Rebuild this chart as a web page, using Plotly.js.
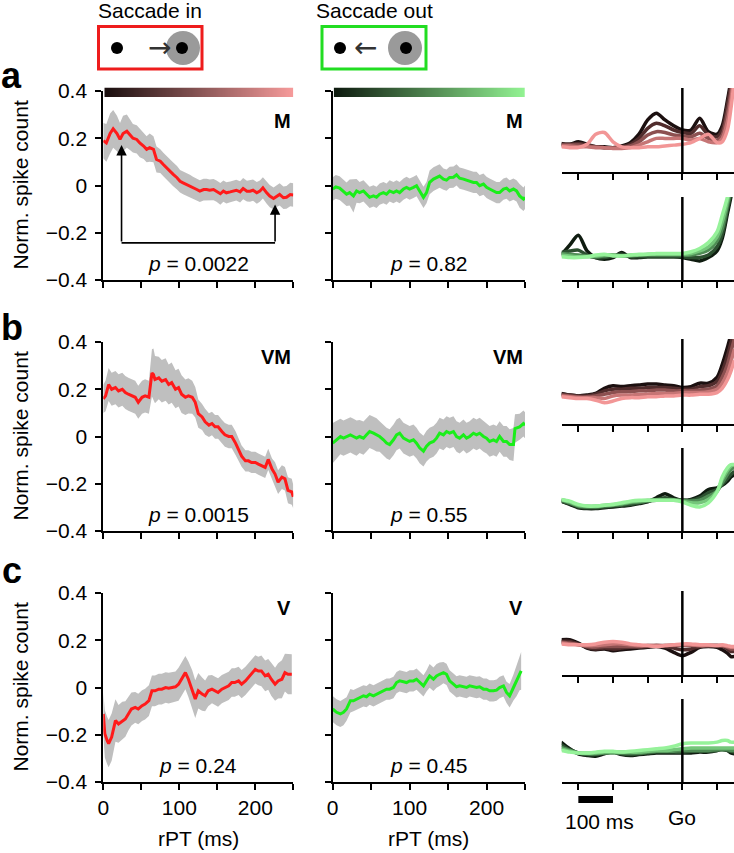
<!DOCTYPE html>
<html><head><meta charset="utf-8">
<script src="https://cdn.plot.ly/plotly-3.0.1.min.js"></script>
<style>html,body{margin:0;padding:0;background:#fff}#g{width:734px;height:853px}</style>
</head><body><div id="g"></div>
<script>
// ---------- left panels: population rPT curves (mean, sem) ----------
const tA1=[0,4,9,13,18,22,26,31,35,39,44,48,53,57,61,66,70,75,79,83,88,92,97,101,105,110,114,118,123,127,132,136,140,145,149,154,158,162,167,171,175,180,184,189,193,197,202,206,210,215,219,224,228,232,237,241,246,250];
const yA1=[0.19,0.18,0.22,0.24,0.22,0.195,0.22,0.23,0.215,0.2,0.195,0.18,0.167,0.153,0.16,0.153,0.11,0.103,0.089,0.075,0.06,0.047,0.033,0.018,0.011,0.004,-0.003,-0.01,-0.017,-0.024,-0.017,-0.017,-0.02,-0.017,-0.024,-0.035,-0.024,-0.031,-0.027,-0.024,-0.02,-0.027,-0.013,-0.024,-0.024,-0.02,-0.031,-0.024,-0.01,-0.031,-0.045,-0.055,-0.045,-0.038,-0.052,-0.05,-0.038,-0.04];
const sA1=[0.075,0.08,0.085,0.08,0.075,0.07,0.075,0.07,0.065,0.06,0.06,0.06,0.055,0.055,0.06,0.055,0.055,0.05,0.05,0.05,0.05,0.05,0.05,0.048,0.048,0.048,0.048,0.047,0.047,0.046,0.046,0.046,0.045,0.045,0.045,0.046,0.045,0.045,0.044,0.044,0.044,0.045,0.045,0.044,0.045,0.045,0.046,0.045,0.045,0.046,0.047,0.047,0.046,0.047,0.048,0.048,0.05,0.05];

const tA2=[0,4,9,13,18,22,27,31,35,40,44,48,53,57,61,66,70,74,79,83,87,92,96,100,105,109,113,118,122,126,131,135,139,144,148,152,157,161,165,170,174,178,183,187,191,196,200,204,209,213,217,222,226,230,235,239,243,248,250];
const yA2=[-0.015,-0.006,-0.011,-0.023,-0.037,-0.03,-0.044,-0.023,-0.03,-0.023,-0.037,-0.05,-0.044,-0.05,-0.037,-0.03,-0.037,-0.023,-0.03,-0.023,-0.03,-0.015,-0.008,-0.015,-0.008,-0.001,-0.023,-0.05,-0.03,0.013,0.027,0.034,0.04,0.027,0.023,0.034,0.035,0.045,0.031,0.027,0.023,0.02,0.013,0.013,-0.001,0.006,-0.008,-0.015,-0.023,-0.03,-0.03,-0.015,-0.011,-0.023,-0.015,-0.023,-0.044,-0.058,-0.05];
const sA2=[0.05,0.05,0.05,0.05,0.05,0.055,0.07,0.05,0.045,0.045,0.045,0.045,0.045,0.045,0.045,0.045,0.045,0.045,0.045,0.045,0.045,0.045,0.045,0.045,0.045,0.045,0.045,0.045,0.045,0.05,0.05,0.05,0.05,0.045,0.045,0.045,0.045,0.045,0.045,0.045,0.045,0.045,0.045,0.045,0.045,0.045,0.045,0.045,0.045,0.045,0.045,0.045,0.045,0.045,0.045,0.045,0.05,0.05,0.05];

const tB1=[0,3,7,11,16,20,25,29,33,37,42,46,51,55,60,64,66,68,73,77,82,86,90,95,99,103,108,112,117,121,125,130,134,139,143,147,151,156,160,165,169,174,178,182,187,191,195,200,204,209,213,217,222,226,230,235,239,243,248,250];
const yB1=[0.159,0.172,0.22,0.2,0.207,0.193,0.2,0.186,0.179,0.172,0.166,0.145,0.166,0.172,0.166,0.269,0.262,0.241,0.248,0.234,0.241,0.22,0.228,0.2,0.207,0.179,0.166,0.172,0.166,0.145,0.097,0.083,0.062,0.048,0.055,0.041,0.041,0.021,0.007,0,0,-0.028,-0.055,-0.083,-0.103,-0.103,-0.11,-0.11,-0.117,-0.124,-0.131,-0.097,-0.138,-0.159,-0.193,-0.172,-0.179,-0.228,-0.234,-0.255];
const sB1=[0.06,0.065,0.07,0.07,0.07,0.07,0.07,0.07,0.07,0.07,0.07,0.07,0.07,0.07,0.07,0.1,0.11,0.1,0.09,0.09,0.09,0.085,0.085,0.08,0.08,0.08,0.075,0.075,0.07,0.065,0.06,0.055,0.055,0.05,0.05,0.05,0.05,0.05,0.05,0.05,0.05,0.05,0.05,0.045,0.045,0.045,0.045,0.045,0.045,0.045,0.045,0.045,0.045,0.05,0.05,0.05,0.05,0.055,0.055,0.05];

const tB2=[0,5,10,14,18,23,27,31,35,40,44,48,53,57,61,66,70,74,79,83,87,92,96,100,105,109,113,118,122,126,131,135,139,144,148,152,157,161,165,170,174,178,183,187,191,196,200,204,209,213,217,222,226,230,235,237,243,248,250];
const yB2=[-0.028,-0.014,0,-0.007,0,0.007,0,-0.007,0,-0.007,0.007,0.021,0.014,0.007,0,-0.014,-0.028,-0.034,-0.014,0.007,0.014,-0.007,-0.014,-0.021,-0.014,-0.028,-0.048,-0.062,-0.041,-0.028,-0.021,-0.007,0.014,0.007,0.021,0.014,0.021,0,-0.007,0.007,-0.007,0,0.014,0.007,0.014,0,-0.007,-0.021,-0.014,-0.021,0,-0.021,-0.021,-0.034,-0.034,0.034,0.041,0.055,0.048];
const sB2=[0.085,0.08,0.075,0.075,0.075,0.075,0.075,0.075,0.07,0.07,0.07,0.07,0.07,0.07,0.065,0.065,0.065,0.065,0.065,0.065,0.065,0.065,0.065,0.065,0.065,0.065,0.065,0.065,0.065,0.065,0.065,0.065,0.065,0.065,0.065,0.065,0.065,0.065,0.065,0.065,0.065,0.065,0.065,0.065,0.065,0.065,0.065,0.065,0.065,0.065,0.065,0.065,0.065,0.065,0.07,0.06,0.055,0.055,0.055];

const tC1=[0,2,5,7,11,16,20,25,29,33,37,42,46,51,55,60,64,68,73,77,82,86,90,95,99,103,108,112,117,121,125,130,134,138,143,147,151,156,160,165,169,173,178,182,187,191,195,200,204,208,213,217,221,226,230,235,239,243,248];
const yC1=[-0.112,-0.196,-0.224,-0.238,-0.21,-0.14,-0.154,-0.14,-0.133,-0.112,-0.091,-0.084,-0.091,-0.077,-0.07,-0.056,-0.014,-0.014,-0.007,-0.007,0,-0.003,0,0.003,0.014,0.035,0.063,0.035,-0.007,-0.049,-0.014,-0.028,-0.035,-0.014,-0.007,-0.014,-0.021,-0.007,0,0.007,0.021,0.021,0.028,0.014,0.028,0.042,0.056,0.077,0.07,0.07,0.049,0.056,0.035,0.014,0.028,0.035,0.063,0.056,0.056];
const sC1=[0.09,0.1,0.1,0.1,0.1,0.09,0.08,0.08,0.075,0.07,0.07,0.065,0.065,0.065,0.065,0.065,0.065,0.065,0.065,0.065,0.065,0.065,0.065,0.065,0.07,0.07,0.07,0.075,0.08,0.08,0.075,0.07,0.065,0.065,0.06,0.06,0.06,0.06,0.06,0.06,0.06,0.06,0.06,0.06,0.06,0.06,0.06,0.06,0.06,0.065,0.065,0.065,0.07,0.07,0.075,0.08,0.08,0.085,0.085];

const tC2=[0,5,10,14,18,23,27,31,35,40,44,48,53,57,61,66,70,74,79,83,87,92,96,100,105,109,113,118,122,126,131,135,139,144,148,152,157,161,165,170,174,178,183,187,191,196,200,204,209,213,217,222,226,230,235,239,243,245];
const yC2=[-0.091,-0.105,-0.112,-0.105,-0.091,-0.056,-0.056,-0.049,-0.042,-0.035,-0.039,-0.028,-0.035,-0.028,-0.021,-0.014,-0.007,-0.007,0,0.021,0.028,0.024,0.021,0.028,0.028,0.035,0.021,0.007,0.028,0.049,0.035,0.049,0.056,0.063,0.056,0.028,0.014,0.003,0.007,0.003,0,0.007,0.003,0,0.003,-0.007,-0.007,-0.014,-0.014,-0.011,0,0.007,-0.021,-0.035,0,0.028,0.063,0.07];
const sC2=[0.055,0.055,0.055,0.055,0.05,0.05,0.045,0.045,0.045,0.045,0.045,0.045,0.045,0.045,0.045,0.045,0.045,0.045,0.045,0.045,0.045,0.045,0.045,0.045,0.045,0.045,0.045,0.045,0.045,0.05,0.05,0.05,0.05,0.045,0.045,0.045,0.045,0.045,0.045,0.045,0.045,0.045,0.045,0.045,0.045,0.045,0.045,0.045,0.045,0.045,0.045,0.045,0.045,0.05,0.055,0.065,0.075,0.08];

const rowTypes=['M','VM','V'];
const pIn=['0.0022','0.0015','0.24'];
const pOut=['0.82','0.55','0.45'];
const xTicks=[0,50,100,150,200,250];
const xTickText=['0','','100','','200',''];
const yTicks=[-0.4,-0.2,0,0.2,0.4];
const yTickText=['\u22120.4','\u22120.2','0','0.2','0.4'];

// ---------- right panels: single-session curves vs time from Go ----------
const tR=[-350,-325,-300,-275,-250,-225,-200,-175,-150,-125,-100,-75,-50,-25,0,25,50,75,100,115,130,140,150];
const rAin=[
 [0.34,0.33,0.36,0.33,0.30,0.30,0.29,0.31,0.35,0.45,0.62,0.70,0.62,0.55,0.50,0.50,0.64,0.48,0.45,0.55,0.85,1.1,1.5],
 [0.33,0.33,0.34,0.32,0.30,0.29,0.29,0.30,0.33,0.40,0.52,0.58,0.55,0.50,0.47,0.46,0.55,0.44,0.42,0.50,0.80,1.05,1.4],
 [0.32,0.32,0.32,0.31,0.30,0.29,0.29,0.29,0.31,0.36,0.44,0.48,0.47,0.44,0.43,0.42,0.46,0.40,0.38,0.44,0.70,0.95,1.3],
 [0.31,0.31,0.30,0.30,0.29,0.29,0.28,0.28,0.29,0.32,0.36,0.40,0.40,0.40,0.40,0.38,0.40,0.36,0.35,0.40,0.60,0.85,1.2],
 [0.30,0.29,0.29,0.33,0.45,0.47,0.36,0.30,0.29,0.29,0.30,0.30,0.31,0.32,0.33,0.35,0.40,0.45,0.35,0.36,0.50,0.75,1.1]];
const rAout=[
 [0.30,0.42,0.54,0.35,0.27,0.25,0.27,0.33,0.27,0.27,0.28,0.28,0.28,0.28,0.27,0.25,0.23,0.27,0.35,0.50,0.80,1.0,1.3],
 [0.33,0.35,0.36,0.30,0.27,0.27,0.29,0.31,0.28,0.28,0.28,0.28,0.28,0.28,0.28,0.27,0.27,0.30,0.40,0.55,0.85,1.05,1.35],
 [0.32,0.31,0.30,0.29,0.28,0.29,0.30,0.29,0.29,0.30,0.30,0.30,0.30,0.30,0.30,0.30,0.32,0.36,0.47,0.62,0.90,1.1,1.4],
 [0.30,0.29,0.28,0.28,0.29,0.30,0.30,0.29,0.30,0.30,0.31,0.31,0.31,0.31,0.31,0.32,0.35,0.40,0.52,0.70,0.95,1.15,1.45],
 [0.28,0.27,0.27,0.28,0.30,0.31,0.29,0.29,0.30,0.31,0.31,0.32,0.32,0.32,0.32,0.34,0.38,0.45,0.58,0.78,1.0,1.2,1.5]];
const rBin=[
 [0.36,0.34,0.33,0.34,0.36,0.42,0.45,0.44,0.45,0.46,0.47,0.47,0.46,0.45,0.43,0.44,0.48,0.48,0.55,0.70,0.90,1.05,1.2],
 [0.35,0.34,0.33,0.33,0.35,0.39,0.41,0.41,0.42,0.42,0.43,0.43,0.43,0.42,0.41,0.41,0.44,0.45,0.50,0.62,0.80,0.95,1.1],
 [0.34,0.33,0.32,0.32,0.33,0.35,0.37,0.38,0.38,0.39,0.39,0.40,0.40,0.39,0.39,0.39,0.40,0.41,0.45,0.55,0.70,0.85,1.0],
 [0.33,0.32,0.31,0.31,0.31,0.30,0.33,0.34,0.34,0.35,0.35,0.36,0.36,0.36,0.37,0.37,0.37,0.38,0.41,0.48,0.60,0.73,0.88],
 [0.32,0.31,0.30,0.30,0.28,0.25,0.27,0.30,0.31,0.31,0.32,0.32,0.33,0.33,0.34,0.34,0.35,0.35,0.37,0.42,0.52,0.62,0.75]];
const rBout=[
 [0.36,0.32,0.28,0.27,0.27,0.28,0.29,0.30,0.31,0.33,0.35,0.40,0.45,0.40,0.37,0.38,0.42,0.50,0.52,0.55,0.60,0.65,0.68],
 [0.36,0.33,0.29,0.28,0.28,0.29,0.30,0.31,0.32,0.34,0.36,0.38,0.40,0.38,0.37,0.37,0.40,0.46,0.50,0.56,0.63,0.68,0.72],
 [0.37,0.34,0.30,0.29,0.29,0.30,0.31,0.32,0.34,0.35,0.36,0.37,0.37,0.37,0.37,0.36,0.37,0.42,0.48,0.58,0.68,0.74,0.77],
 [0.38,0.35,0.31,0.30,0.30,0.31,0.32,0.33,0.35,0.36,0.37,0.37,0.37,0.37,0.36,0.34,0.34,0.38,0.48,0.62,0.73,0.78,0.80],
 [0.38,0.36,0.32,0.30,0.30,0.31,0.32,0.34,0.36,0.37,0.37,0.37,0.37,0.37,0.35,0.31,0.29,0.34,0.47,0.65,0.76,0.80,0.80]];
const rCin=[
 [0.42,0.42,0.38,0.32,0.30,0.31,0.29,0.30,0.31,0.32,0.33,0.34,0.32,0.27,0.23,0.27,0.33,0.34,0.33,0.30,0.26,0.22,0.22],
 [0.40,0.40,0.37,0.33,0.31,0.32,0.31,0.32,0.33,0.33,0.34,0.35,0.34,0.32,0.30,0.31,0.34,0.35,0.35,0.34,0.31,0.28,0.28],
 [0.39,0.38,0.36,0.34,0.33,0.34,0.34,0.34,0.34,0.34,0.35,0.35,0.35,0.35,0.35,0.35,0.35,0.35,0.35,0.35,0.33,0.31,0.31],
 [0.38,0.37,0.36,0.35,0.35,0.36,0.37,0.37,0.36,0.35,0.35,0.35,0.35,0.36,0.36,0.36,0.35,0.35,0.35,0.35,0.34,0.33,0.33],
 [0.37,0.36,0.36,0.36,0.37,0.39,0.40,0.39,0.37,0.36,0.35,0.34,0.35,0.36,0.37,0.37,0.36,0.36,0.35,0.36,0.35,0.34,0.34]];
const rCout=[
 [0.48,0.40,0.34,0.32,0.31,0.34,0.36,0.33,0.32,0.33,0.34,0.35,0.35,0.35,0.35,0.35,0.36,0.36,0.38,0.40,0.38,0.35,0.34],
 [0.45,0.39,0.35,0.33,0.33,0.35,0.36,0.34,0.33,0.34,0.35,0.36,0.36,0.36,0.36,0.37,0.37,0.37,0.38,0.39,0.38,0.37,0.36],
 [0.42,0.38,0.35,0.34,0.34,0.35,0.35,0.35,0.35,0.35,0.36,0.37,0.37,0.37,0.38,0.38,0.38,0.38,0.39,0.39,0.39,0.38,0.38],
 [0.40,0.37,0.35,0.35,0.35,0.36,0.36,0.36,0.36,0.36,0.37,0.38,0.38,0.39,0.40,0.41,0.41,0.41,0.41,0.41,0.41,0.41,0.41],
 [0.38,0.36,0.35,0.35,0.36,0.37,0.37,0.36,0.37,0.38,0.39,0.40,0.41,0.43,0.46,0.47,0.47,0.47,0.48,0.50,0.50,0.48,0.48]];
const rTicks=[-300,-200,-100,0,100];
const scaleBar=[-300,-200];
const pinkShades=['#1c1010','#502c2c','#8c5050','#c67575','#f29696'];
const greenShades=['#0f1c10','#2c5030','#4f8c55','#74c67a','#96f29a'];

// ---------- geometry (pixels) ----------
const W=734,H=853;
const X=v=>v/W, Y=v=>1-v/H;
const FONT='Liberation Sans, Arial, sans-serif';
const FS=21;
const colX=[[103.3,293.3],[332.7,525]];
const rowY=[[91,280],[342,531],[593,782]];
const letterY=[75,327,570];
const rightX=[561.7,734];
const rightY=[[[88,172],[197,280]],[[339,424],[448,531]],[[591,675],[699,782]]];

const panels=[[[tA1,yA1,sA1],[tA2,yA2,sA2]],[[tB1,yB1,sB1],[tB2,yB2,sB2]],[[tC1,yC1,sC1],[tC2,yC2,sC2]]];
const rightData=[[rAin,rAout],[rBin,rBout],[rCin,rCout]];

const traces=[], layout={width:W,height:H,margin:{l:0,r:0,t:0,b:0},paper_bgcolor:'#fff',plot_bgcolor:'rgba(0,0,0,0)',showlegend:false,hovermode:false,font:{family:FONT,size:FS,color:'#000'},shapes:[],annotations:[]};
const ax=(n)=>n===1?'':String(n);

function addAnn(o){layout.annotations.push(Object.assign({showarrow:false,font:{family:FONT,size:FS,color:'#000'}},o));}

// left panels
for(let r=0;r<3;r++){
  for(let c=0;c<2;c++){
    const n=r*2+c+1;
    const [t,y,s]=panels[r][c];
    const lo=t.map((_,i)=>y[i]-s[i]), hi=t.map((_,i)=>y[i]+s[i]);
    const xa='x'+ax(n), ya='y'+ax(n);
    traces.push({x:t,y:lo,xaxis:xa,yaxis:ya,mode:'lines',line:{width:0,color:'#bfbfbf'},type:'scatter'});
    traces.push({x:t,y:hi,xaxis:xa,yaxis:ya,mode:'lines',line:{width:0,color:'#bfbfbf'},fill:'tonexty',fillcolor:'#bfbfbf',type:'scatter'});
    traces.push({x:t,y:y,xaxis:xa,yaxis:ya,mode:'lines',line:{width:3,color:c===0?'#ff1a1a':'#1aee1a'},type:'scatter'});
    layout['xaxis'+ax(n)]={domain:[X(colX[c][0]),X(colX[c][1])],range:[0,250],anchor:ya,showline:true,linewidth:2,linecolor:'#000',ticks:'outside',ticklen:6,tickwidth:2,tickcolor:'#000',tickmode:'array',tickvals:xTicks,ticktext:xTickText,showticklabels:r===2,showgrid:false,zeroline:false,tickfont:{family:FONT,size:FS},fixedrange:true};
    layout['yaxis'+ax(n)]={domain:[Y(rowY[r][1]),Y(rowY[r][0])],range:[-0.4,0.4],anchor:xa,showline:true,linewidth:2,linecolor:'#000',ticks:'outside',ticklen:6,tickwidth:2,tickcolor:'#000',tickmode:'array',tickvals:yTicks,ticktext:yTickText,showticklabels:c===0,showgrid:false,zeroline:false,tickfont:{family:FONT,size:FS},ticklabelstandoff:4,fixedrange:true};
    addAnn({xref:xa,yref:ya,x:250,y:r===0?0.275:0.335,xanchor:'right',yanchor:'middle',text:'<b>'+rowTypes[r]+'</b>',font:{family:FONT,size:20,color:'#000'}});
    addAnn({xref:xa,yref:ya,x:125,y:-0.33,xanchor:'center',yanchor:'middle',text:'<i>p</i> = '+(c===0?pIn[r]:pOut[r])});
  }
  addAnn({xref:'paper',yref:'paper',x:X(20),y:Y((rowY[r][0]+rowY[r][1])/2),textangle:-90,text:'Norm. spike count',xanchor:'center',yanchor:'middle'});
  addAnn({xref:'paper',yref:'paper',x:X(12),y:Y(letterY[r]),text:'<b>'+['a','b','c'][r]+'</b>',font:{family:FONT,size:36,color:'#000'},xanchor:'center',yanchor:'middle'});
}
for(let c=0;c<2;c++) addAnn({xref:'paper',yref:'paper',x:X((colX[c][0]+colX[c][1])/2),y:Y(838),text:'rPT (ms)',xanchor:'center',yanchor:'middle'});

// right panels
for(let r=0;r<3;r++){
  for(let k=0;k<2;k++){
    const n=7+r*2+k;
    const xa='x'+n, ya='y'+n;
    const curves=rightData[r][k], shades=k===0?pinkShades:greenShades;
    curves.forEach((cv,j)=>traces.push({x:tR,y:cv,xaxis:xa,yaxis:ya,mode:'lines',line:{width:3.5,color:shades[j],shape:'spline',smoothing:0.8},type:'scatter'}));
    layout['xaxis'+n]={domain:[X(rightX[0]),X(rightX[1])],range:[-348,149],anchor:ya,showline:true,linewidth:2,linecolor:'#000',ticks:'outside',ticklen:6,tickwidth:2,tickcolor:'#000',tickmode:'array',tickvals:rTicks,showticklabels:false,showgrid:false,zeroline:false,fixedrange:true};
    layout['yaxis'+n]={domain:[Y(rightY[r][k][1]),Y(rightY[r][k][0])],range:[0,1],anchor:xa,visible:false,fixedrange:true};
    layout.shapes.push({type:'line',xref:xa,yref:ya+' domain',x0:0,x1:0,y0:0,y1:1,line:{width:2.5,color:'#000'}});
  }
}
// Go marker + scale bar (bottom right subplot)
traces.push({x:[0],y:[-0.145],xaxis:'x12',yaxis:'y12',mode:'markers',marker:{symbol:'triangle-up',size:15,color:'#000'},cliponaxis:false,type:'scatter'});
layout.shapes.push({type:'rect',xref:'x12',yref:'paper',x0:scaleBar[0],x1:scaleBar[1],y0:Y(803),y1:Y(796),fillcolor:'#000',line:{width:0}});
addAnn({xref:'x12',yref:'paper',x:0,y:Y(817),text:'Go',xanchor:'center',yanchor:'middle'});
addAnn({xref:'x12',yref:'paper',x:(scaleBar[0]+scaleBar[1])/2+10,y:Y(821),text:'100 ms',xanchor:'center',yanchor:'middle'});

// gradient bars above row a
const grad=[]; for(let i=0;i<=40;i++) grad.push(i);
[[pinkShades[0],'#f59a9a'],[greenShades[0],'#92f292']].forEach((cs,c)=>{
  const n=13+c;
  traces.push({type:'heatmap',z:[grad],xaxis:'x'+n,yaxis:'y'+n,colorscale:[[0,cs[0]],[1,cs[1]]],showscale:false,zsmooth:'best',hoverinfo:'skip'});
  layout['xaxis'+n]={domain:[X(colX[c][0]+1),X(colX[c][1])],visible:false,range:[-0.5,40.5],fixedrange:true};
  layout['yaxis'+n]={domain:[Y(97),Y(87.5)],visible:false,range:[-0.5,0.5],fixedrange:true};
});

// bracket in panel a (Saccade in)
const brX=[24,226], brTop=[0.171,-0.08], brY=-0.243;
layout.shapes.push({type:'line',xref:'x',yref:'y',x0:brX[0],x1:brX[1],y0:brY,y1:brY,line:{width:1.6,color:'#000'}});
brX.forEach((bx,i)=>addAnn({xref:'x',yref:'y',axref:'x',ayref:'y',x:bx,y:brTop[i],ax:bx,ay:brY,showarrow:true,arrowhead:2,arrowsize:1.3,arrowwidth:1.6,arrowcolor:'#000',text:''}));

// task icons
function circ(cx,cy,rad,col){layout.shapes.push({type:'circle',xref:'paper',yref:'paper',x0:X(cx-rad),x1:X(cx+rad),y0:Y(cy+rad),y1:Y(cy-rad),fillcolor:col,line:{width:0}});}
layout.shapes.push({type:'rect',xref:'paper',yref:'paper',x0:X(98.5),x1:X(202),y0:Y(69),y1:Y(26.5),line:{width:3,color:'#ee1c1c'},fillcolor:'rgba(0,0,0,0)'});
layout.shapes.push({type:'rect',xref:'paper',yref:'paper',x0:X(322),x1:X(426),y0:Y(69),y1:Y(26.5),line:{width:3,color:'#22dd22'},fillcolor:'rgba(0,0,0,0)'});
circ(183,48,17,'#9a9a9a'); circ(405,48,17,'#9a9a9a');
circ(117,48,6,'#000'); circ(182,48,6,'#000'); circ(340,48,6,'#000'); circ(406,48,6,'#000');
addAnn({xref:'paper',yref:'paper',x:X(159),y:Y(47),text:'\u2192',font:{family:'DejaVu Sans',size:28,color:'#333'},xanchor:'center',yanchor:'middle'});
addAnn({xref:'paper',yref:'paper',x:X(365),y:Y(47),text:'\u2190',font:{family:'DejaVu Sans',size:28,color:'#333'},xanchor:'center',yanchor:'middle'});
addAnn({xref:'paper',yref:'paper',x:X(150),y:Y(10),text:'Saccade in',xanchor:'center',yanchor:'middle'});
addAnn({xref:'paper',yref:'paper',x:X(374),y:Y(10),text:'Saccade out',xanchor:'center',yanchor:'middle'});

Plotly.newPlot('g',traces,layout,{staticPlot:true,displayModeBar:false});
</script></body></html>
